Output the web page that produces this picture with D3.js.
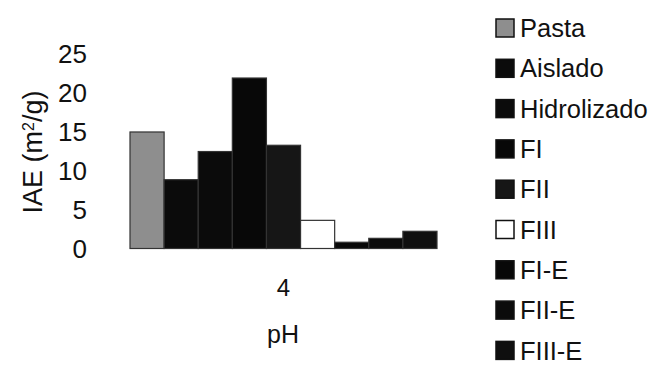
<!DOCTYPE html>
<html>
<head>
<meta charset="utf-8">
<script src="https://cdnjs.cloudflare.com/ajax/libs/d3/7.8.5/d3.min.js"></script>
<style>
  body { margin: 0; background: #fff; }
  text { font-family: "Liberation Sans", Arial, sans-serif; fill: #111; }
</style>
</head>
<body>
<div id="chart-area"></div>
<script>
// data
let categories = ["4"];
let series = ["Pasta", "Aislado", "Hidrolizado", "FI", "FII", "FIII", "FI-E", "FII-E", "FIII-E"];
let values = [14.9, 8.8, 12.4, 21.8, 13.2, 3.6, 0.8, 1.3, 2.2];
let colors = ["#8e8e8e", "#0b0b0b", "#0b0b0b", "#080808", "#161616", "#ffffff", "#080808", "#0b0b0b", "#0f0f0f"];
let yTicks = [0, 5, 10, 15, 20, 25];

let svg = d3.select("#chart-area")
    .append("svg")
    .attr("width", 657)
    .attr("height", 367);

let y = d3.scaleLinear()
    .domain([0, 25])
    .range([248.5, 53]);

let x0 = d3.scaleBand()
    .domain(categories)
    .range([130, 437])
    .padding(0);

let x1 = d3.scaleBand()
    .domain(series)
    .range([0, x0.bandwidth()])
    .padding(0);

// y axis: labels only, no line
let yAxis = svg.append("g")
    .attr("transform", "translate(107,0)")
    .call(d3.axisLeft(y).tickValues(yTicks).tickSize(0).tickPadding(8));
yAxis.select(".domain").remove();
yAxis.selectAll("text")
    .style("font-size", "26px")
    .attr("dy", "0.36em")
    .attr("x", -20);

let groups = svg.selectAll("g.cat").data(categories)
    .enter().append("g")
    .attr("class", "cat")
    .attr("transform", (d) => "translate(" + x0(d) + ",0)");

groups.selectAll("rect")
    .data(series.map((s, i) => ({ name: s, value: values[i], color: colors[i] })))
    .enter().append("rect")
    .attr("x", (d) => x1(d.name))
    .attr("y", (d) => y(d.value))
    .attr("width", x1.bandwidth())
    .attr("height", (d) => y(0) - y(d.value))
    .attr("fill", (d) => d.color)
    .attr("stroke", "#333")
    .attr("stroke-width", 1.2);

// category label
svg.selectAll("text.cat").data(categories)
    .enter().append("text")
    .attr("class", "cat")
    .attr("x", (d) => x0(d) + x0.bandwidth() / 2)
    .attr("y", 296)
    .attr("text-anchor", "middle")
    .style("font-size", "24px")
    .text((d) => d);

svg.append("text")
    .attr("x", 283)
    .attr("y", 343)
    .attr("text-anchor", "middle")
    .style("font-size", "25px")
    .text("pH");

// y label
let yl = svg.append("text")
    .attr("transform", "translate(42,152) rotate(-90)")
    .attr("text-anchor", "middle")
    .style("font-size", "27px");
yl.append("tspan").text("IAE (m");
yl.append("tspan").attr("baseline-shift", "super").style("font-size", "16px").text("2");
yl.append("tspan").text("/g)");

// legend
let legend = svg.selectAll("g.leg")
    .data(series.map((s, i) => ({ name: s, color: colors[i] })))
    .enter().append("g")
    .attr("class", "leg")
    .attr("transform", (d, i) => "translate(496," + (28 + i * 40.3) + ")");

legend.append("rect")
    .attr("x", 0)
    .attr("y", -9)
    .attr("width", 18)
    .attr("height", 18)
    .attr("fill", (d) => d.color)
    .attr("stroke", "#111")
    .attr("stroke-width", 1.5);

legend.append("text")
    .attr("x", 24)
    .attr("dy", "0.36em")
    .style("font-size", "25.5px")
    .text((d) => d.name);
</script>
</body>
</html>
